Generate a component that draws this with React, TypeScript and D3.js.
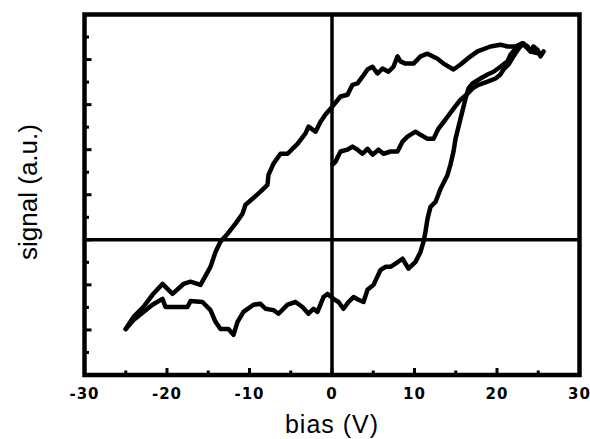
import React from 'react';
import * as d3 from 'd3';

// forward sweep -25 V -> +25 V
const forwardBias = [-25, -24.06, -22.85, -21.76, -20.55, -20.18, -18.97, -17.52, -17.15, -15.7, -14.73, -14.12, -13.52, -12.55, -11.94, -11.45, -10.73, -9.52, -8.67, -8.06, -7.09, -6.48, -5.39, -4.42, -3.58, -2.85, -2.24, -1.76, -1.03, -0.55, 0.18, 0.79, 1.39, 2.0, 2.61, 3.21, 3.82, 4.3, 5.03, 5.88, 6.48, 7.09, 7.7, 8.55, 9.27, 10.12, 10.73, 11.09, 11.33, 11.58, 11.94, 12.55, 13.15, 14.0, 14.36, 14.73, 14.97, 15.58, 16.18, 16.55, 17.03, 18.0, 18.85, 19.58, 20.42, 21.27, 21.64, 22.24, 23.09, 23.7, 24.06, 24.42, 24.91, 25.27, 25.64];
const forwardSignal = [-1.98, -1.78, -1.6, -1.44, -1.31, -1.49, -1.49, -1.49, -1.36, -1.38, -1.56, -1.82, -1.98, -1.98, -2.11, -1.82, -1.6, -1.44, -1.42, -1.53, -1.56, -1.64, -1.44, -1.38, -1.49, -1.64, -1.53, -1.6, -1.27, -1.2, -1.31, -1.38, -1.53, -1.38, -1.27, -1.33, -1.38, -1.11, -1.0, -0.67, -0.6, -0.6, -0.53, -0.42, -0.64, -0.49, -0.27, -0.04, 0.18, 0.47, 0.73, 0.84, 1.13, 1.44, 1.67, 1.96, 2.24, 2.69, 3.13, 3.36, 3.47, 3.58, 3.67, 3.73, 3.84, 3.96, 4.11, 4.24, 4.36, 4.29, 4.18, 4.29, 4.22, 4.07, 4.18];

// reverse sweep +25 V -> -25 V
const reverseBias = [25.27, 24.06, 23.09, 22.24, 21.27, 20.42, 19.21, 17.64, 16.42, 15.58, 14.73, 13.52, 12.79, 11.58, 10.73, 9.88, 8.91, 8.3, 7.94, 7.45, 6.85, 6.12, 5.52, 4.91, 4.3, 3.7, 3.09, 2.48, 1.88, 1.03, 0.06, -0.79, -1.39, -2.0, -2.85, -3.21, -4.18, -5.39, -6.24, -7.09, -7.7, -7.82, -8.67, -9.64, -10.48, -10.85, -11.7, -12.67, -13.52, -14.12, -14.73, -15.94, -17.15, -18.0, -19.33, -20.55, -21.76, -22.85, -24.06, -25.0];
const reverseSignal = [4.13, 4.18, 4.36, 4.29, 4.29, 4.33, 4.29, 4.18, 4.02, 3.89, 3.78, 3.91, 4.02, 4.13, 4.07, 3.91, 3.91, 3.96, 4.07, 3.84, 3.73, 3.8, 3.69, 3.84, 3.78, 3.62, 3.47, 3.44, 3.22, 3.18, 2.96, 2.78, 2.62, 2.4, 2.51, 2.36, 2.13, 1.91, 1.91, 1.69, 1.44, 1.22, 1.07, 0.91, 0.78, 0.58, 0.36, 0.13, -0.04, -0.27, -0.6, -1.0, -0.93, -0.98, -1.2, -0.98, -1.22, -1.49, -1.71, -1.98];

// initial sweep 0 V -> +25 V
const initialBias = [0.06, 0.42, 1.03, 1.88, 2.48, 3.09, 3.7, 4.3, 4.91, 5.64, 6.24, 7.09, 7.94, 8.55, 9.15, 10.12, 10.73, 11.58, 12.3, 12.91, 13.76, 14.73, 15.58, 16.42, 17.03, 17.76, 18.85, 19.82, 20.42, 20.79, 21.39, 21.88, 22.61, 23.21];
const initialSignal = [1.67, 1.73, 1.96, 2.0, 2.07, 2.0, 1.91, 2.02, 1.89, 2.0, 1.91, 1.96, 1.96, 2.18, 2.29, 2.4, 2.33, 2.24, 2.24, 2.47, 2.67, 2.91, 3.11, 3.24, 3.36, 3.44, 3.51, 3.58, 3.67, 3.78, 3.89, 4.04, 4.24, 4.36];

const xTickValues = [-30, -20, -10, 0, 10, 20, 30];
const xMinorTicks = [-25, -15, -5, 5, 15, 25];
const yMajorTicks = [-2, -1, 0, 1, 2, 3, 4];
const yMinorTicks = [-2.5, -1.5, -0.5, 0.5, 1.5, 2.5, 3.5, 4.5];

const W = 590;
const H = 439;
const margin = { top: 14.5, right: 10.5, bottom: 64, left: 84.5 };

export default function App() {
  const innerW = W - margin.left - margin.right;
  const innerH = H - margin.top - margin.bottom;

  const x = d3.scaleLinear().domain([-30, 30]).range([0, innerW]);
  const y = d3.scaleLinear().domain([-3, 5]).range([innerH, 0]);

  const line = d3.line<[number, number]>()
    .x(d => x(d[0]))
    .y(d => y(d[1]));

  const series = [
    d3.zip(forwardBias, forwardSignal) as [number, number][],
    d3.zip(reverseBias, reverseSignal) as [number, number][],
    d3.zip(initialBias, initialSignal) as [number, number][],
  ];

  return (
    <svg width={W} height={H} style={{ position: 'absolute', left: 0, top: 0, background: '#fff' }}>
      <g transform={`translate(${margin.left},${margin.top})`}>
        {/* zero lines */}
        <line x1={0} x2={innerW} y1={y(0)} y2={y(0)} stroke="#000" strokeWidth={3.5} />
        <line x1={x(0)} x2={x(0)} y1={0} y2={innerH} stroke="#000" strokeWidth={3.5} />

        {series.map((s, i) => (
          <path key={i} d={line(s) ?? ''} fill="none" stroke="#000" strokeWidth={4.5}
            strokeLinejoin="round" strokeLinecap="round" />
        ))}

        {/* ticks, pointing inward */}
        {xTickValues.map(v => (
          <line key={'xt' + v} x1={x(v)} x2={x(v)} y1={innerH} y2={innerH - 7} stroke="#000" strokeWidth={3} />
        ))}
        {xMinorTicks.map(v => (
          <line key={'xm' + v} x1={x(v)} x2={x(v)} y1={innerH} y2={innerH - 4.5} stroke="#000" strokeWidth={3} />
        ))}
        {yMajorTicks.map(v => (
          <line key={'yt' + v} x1={0} x2={7} y1={y(v)} y2={y(v)} stroke="#000" strokeWidth={3} />
        ))}
        {yMinorTicks.map(v => (
          <line key={'ym' + v} x1={0} x2={4.5} y1={y(v)} y2={y(v)} stroke="#000" strokeWidth={3} />
        ))}

        <rect x={0} y={0} width={innerW} height={innerH} fill="none" stroke="#000" strokeWidth={4.5} />

        {xTickValues.map(v => (
          <text key={'xl' + v} x={x(v)} y={innerH + 24} textAnchor="middle" letterSpacing={1}
            fontFamily="DejaVu Sans, sans-serif" fontWeight="bold" fontSize={15}>
            {v}
          </text>
        ))}
      </g>
      <text x={margin.left + x(0)} y={433} textAnchor="middle" letterSpacing={1}
        fontFamily="Liberation Sans, Arial, sans-serif" fontSize={25}>
        bias (V)
      </text>
      <text transform={`translate(37,192) rotate(-90)`} textAnchor="middle"
        fontFamily="Liberation Sans, Arial, sans-serif" fontSize={26}>
        signal (a.u.)
      </text>
    </svg>
  );
}
